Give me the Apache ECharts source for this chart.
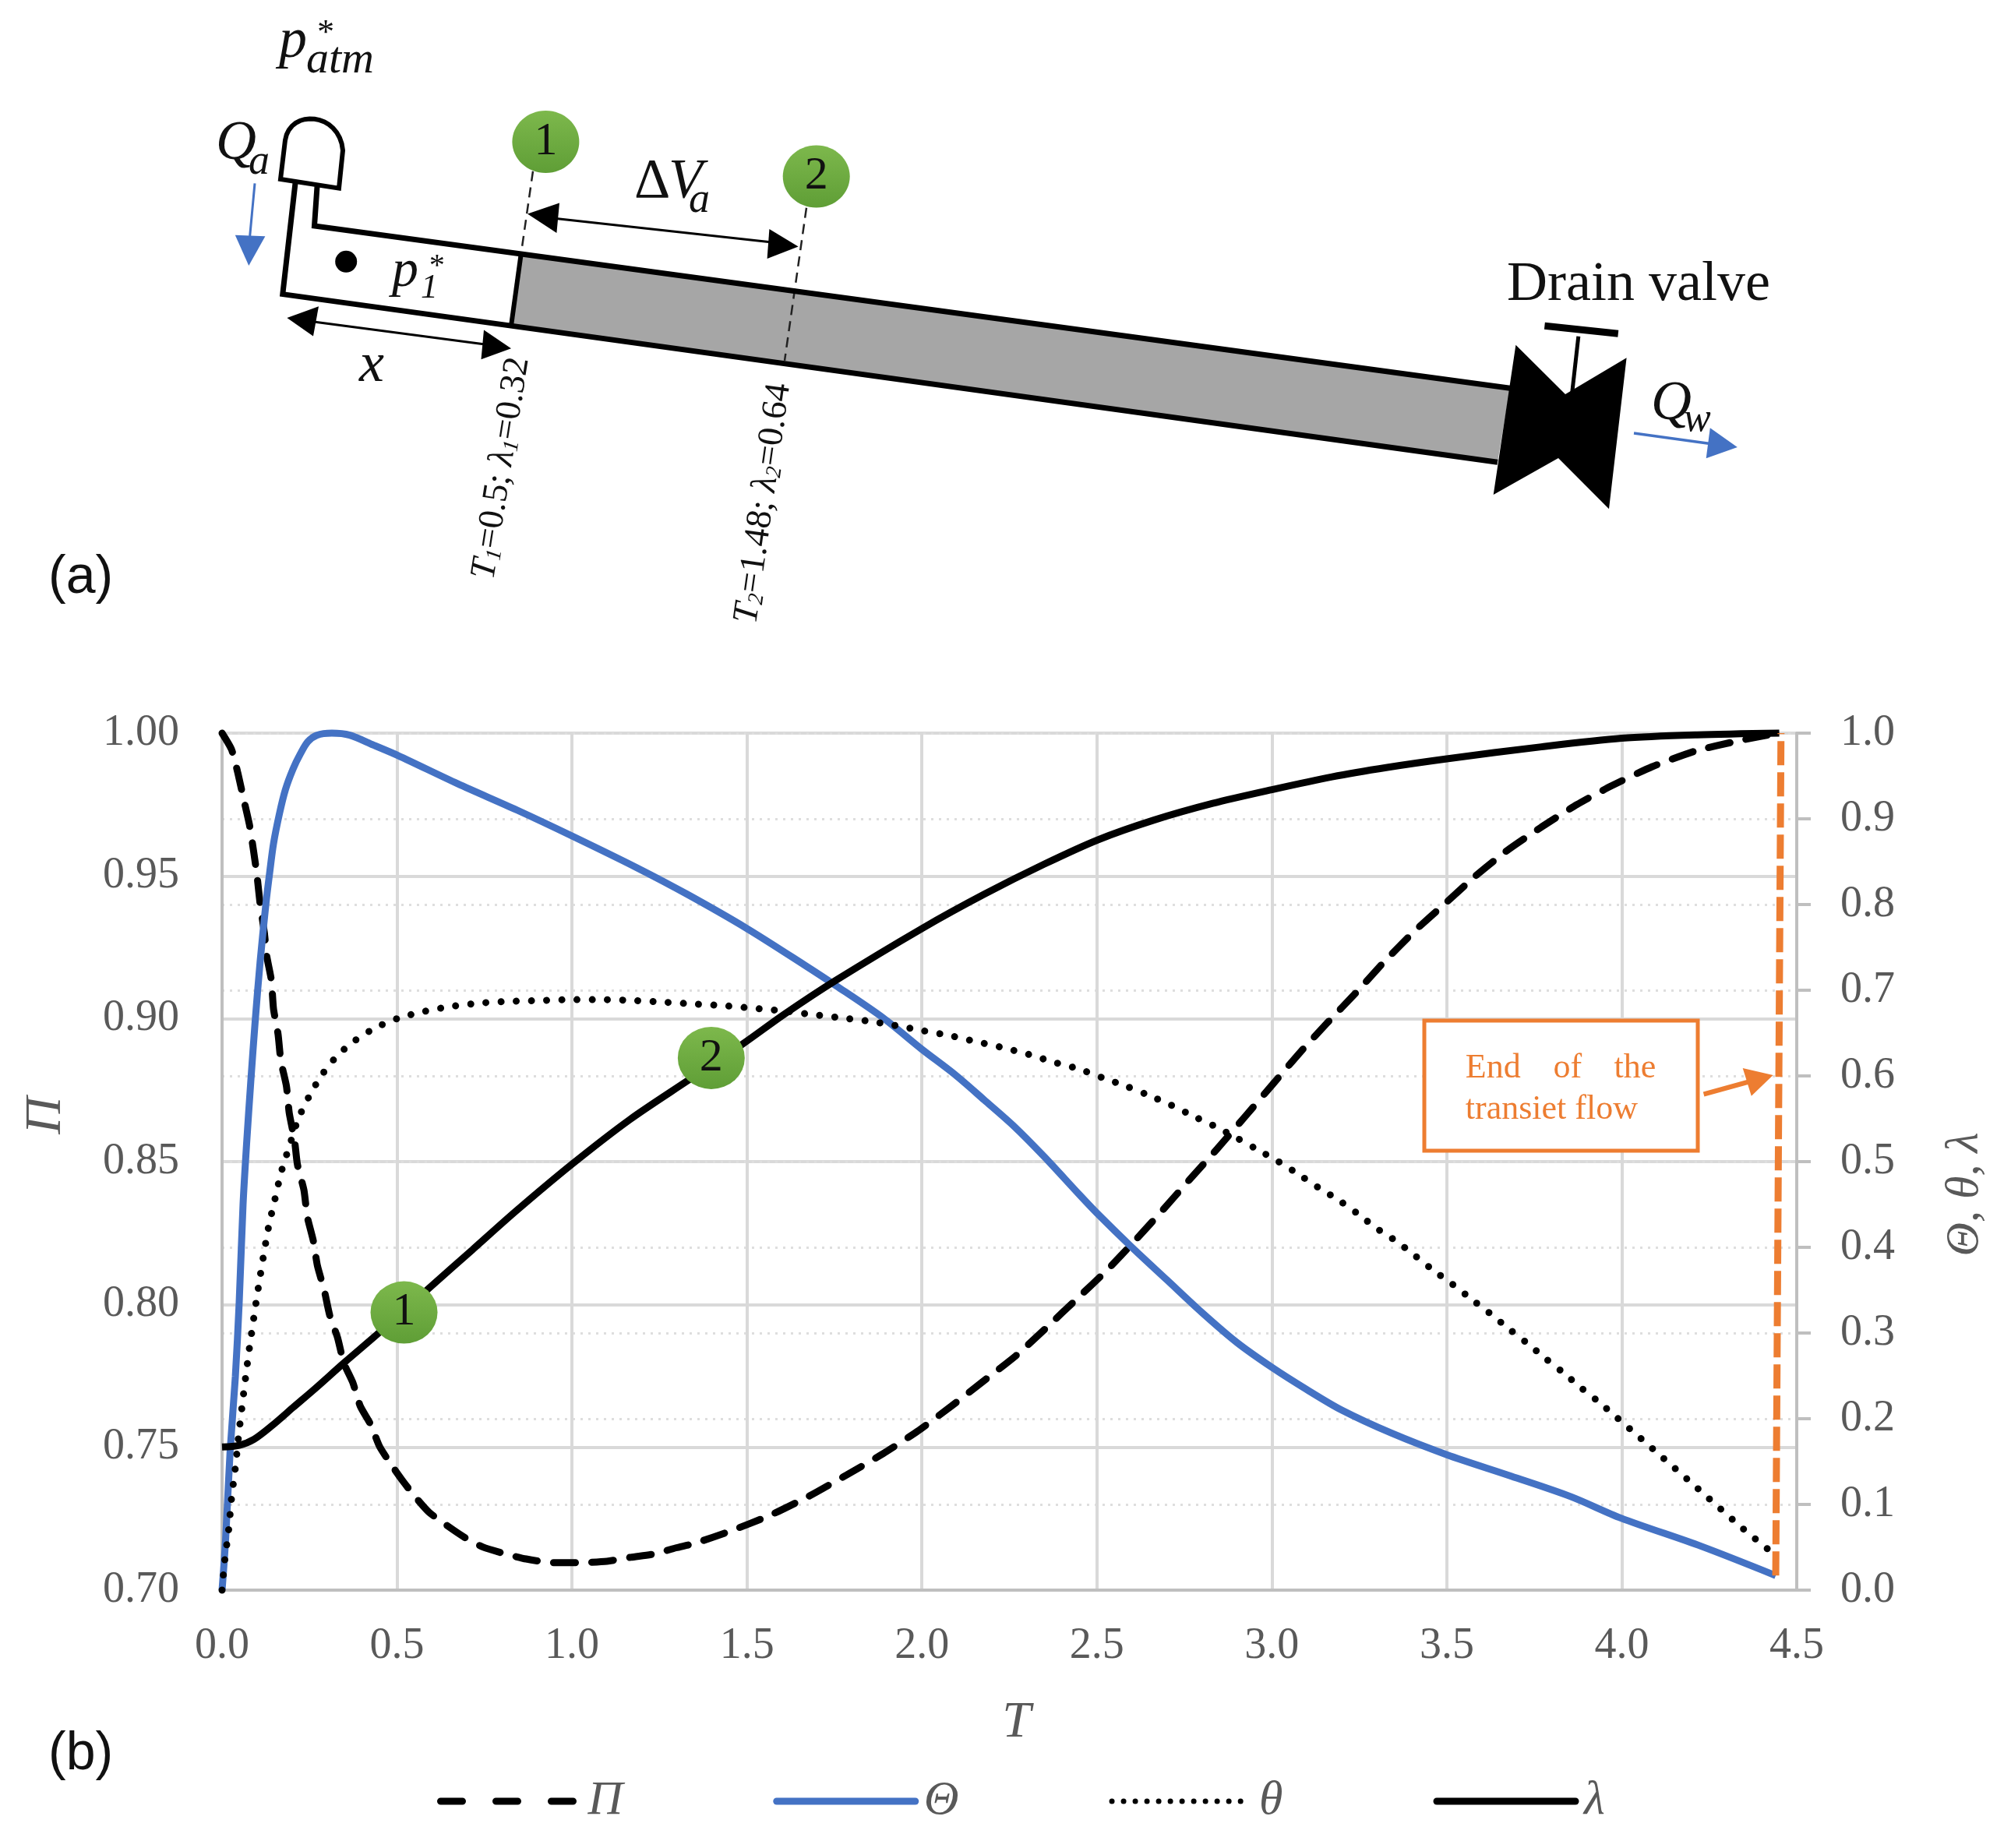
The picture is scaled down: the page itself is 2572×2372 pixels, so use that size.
<!DOCTYPE html>
<html>
<head>
<meta charset="utf-8">
<script src="https://cdn.jsdelivr.net/npm/echarts@6/dist/echarts.min.js"></script>
<style>html,body{margin:0;padding:0;background:#fff}#c{width:2572px;height:2372px}</style>
</head>
<body>
<div id="c"></div>
<script>
// ---- chart data: [T, value] ----
const namePi = 'Π', nameCapTheta = 'Θ', nameTheta = 'θ', nameLambda = 'λ';

const piSeries = [[0,1],[.027,.9943],[.0444,.9864],[.0615,.977],[.0786,.9677],[.09,.9588],[.1,.95],[.1085,.9405],[.121,.93],[.128,.9218],[.141,.9134],[.147,.9035],[.16,.8946],[.168,.8853],[.184,.8764],[.192,.867],[.207,.8576],[.2154,.849],[.234,.84],[.2436,.8307],[.2607,.8223],[.2726,.8135],[.292,.805],[.3077,.7962],[.33,.7884],[.348,.7795],[.3735,.7727],[.395,.7644],[.425,.7579],[.45,.7503],[.483,.744],[.519,.7378],[.553,.7325],[.591,.7273],[.643,.7226],[.694,.7184],[.745,.7151],[.809,.7127],[.869,.7109],[.946,.7096],[1.015,.7096],[1.1,.7101],[1.168,.7115],[1.237,.7127],[1.297,.7148],[1.351,.7164],[1.453,.7207],[1.568,.7263],[1.679,.733],[1.786,.7404],[1.888,.7477],[1.986,.7555],[2.084,.7644],[2.174,.773],[2.268,.782],[2.357,.792],[2.443,.802],[2.528,.8119],[2.613,.8229],[2.69,.8333],[2.767,.844],[2.844,.8545],[2.925,.866],[3.002,.877],[3.079,.888],[3.16,.8988],[3.241,.9092],[3.319,.9197],[3.407,.9306],[3.492,.94],[3.582,.95],[3.671,.9588],[3.77,.9671],[3.872,.975],[3.97,.9815],[4.086,.9882],[4.209,.9937],[4.333,.9973],[4.445,1]];

const capThetaSeries = [[0,0],[.01,.058],[.023,.162],[.038,.249],[.049,.336],[.06,.45],[.07,.52],[.082,.593],[.0945,.663],[.1085,.732],[.1256,.802],[.136,.837],[.147,.871],[.164,.906],[.181,.934],[.2026,.958],[.224,.976],[.245,.99],[.271,.9976],[.3137,1],[.365,.9976],[.433,.986],[.502,.974],[.673,.941],[.844,.91],[1,.88],[1.185,.843],[1.329,.812],[1.5,.772],[1.666,.729],[1.752,.706],[1.888,.668],[2,.631],[2.093,.602],[2.178,.572],[2.264,.541],[2.349,.506],[2.451,.461],[2.5,.44],[2.6,.4],[2.7,.362],[2.8,.324],[2.9,.289],[3,.26],[3.1,.234],[3.2,.21],[3.343,.183],[3.5,.158],[3.684,.133],[3.855,.109],[3.998,.084],[4.228,.051],[4.44,.017]];

const thetaSeries = [[0,0],[.008,.036],[.019,.071],[.027,.107],[.038,.143],[.047,.179],[.057,.214],[.0675,.249],[.079,.285],[.0915,.32],[.104,.354],[.118,.389],[.1325,.423],[.151,.456],[.17,.489],[.194,.52],[.218,.55],[.25,.577],[.285,.601],[.328,.623],[.379,.641],[.438,.656],[.502,.667],[.575,.675],[.654,.681],[.737,.685],[.822,.687],[.909,.688],[1,.689],[1.089,.689],[1.177,.688],[1.264,.686],[1.346,.684],[1.432,.682],[1.517,.679],[1.6,.676],[1.68,.672],[1.765,.668],[1.846,.664],[1.922,.659],[2,.653],[2.08,.647],[2.155,.64],[2.231,.633],[2.306,.625],[2.377,.616],[2.449,.608],[2.515,.598],[2.584,.588],[2.65,.577],[2.712,.566],[2.776,.553],[2.838,.541],[2.898,.528],[2.959,.514],[3.019,.5],[3.077,.485],[3.132,.47],[3.191,.455],[3.246,.439],[3.3,.422],[3.356,.407],[3.41,.39],[3.462,.373],[3.516,.357],[3.569,.34],[3.623,.323],[3.674,.306],[3.727,.289],[3.78,.271],[3.832,.254],[3.884,.236],[3.936,.219],[3.987,.201],[4.116,.155],[4.216,.119],[4.34,.074],[4.42,.047]];

const lambdaSeries = [[0,.167],[.049,.169],[.0915,.176],[.143,.192],[.2026,.213],[.271,.237],[.348,.265],[.442,.298],[.596,.354],[.715,.397],[.842,.443],[1,.497],[1.165,.549],[1.329,.594],[1.487,.637],[1.607,.672],[1.752,.711],[2,.772],[2.178,.812],[2.349,.847],[2.503,.8755],[2.663,.8985],[2.831,.918],[3,.934],[3.172,.949],[3.33,.96],[3.5,.97],[3.77,.984],[4,.994],[4.215,.998],[4.45,1]];

const endOfTransient = [[4.44,.017],[4.455,1]];
const markerPoints = [[.52,.324,'1'],[1.398,.621,'2']];

const SERIF = '"Liberation Serif","Times New Roman",serif';
const GREY = '#595959', ORANGE = '#ED7D31', BLUE = '#4472C4', GREEN = {type:'linear',x:0,y:0,x2:0,y2:1,colorStops:[{offset:0,color:'#7DB84C'},{offset:1,color:'#5F9E36'}]};

// ---- schematic (a) and annotation drawn with the graphic component ----
const g = [];
const line = (x1,y1,x2,y2,w,color,extra) => g.push({type:'line',z:100,shape:{x1,y1,x2,y2},style:Object.assign({stroke:color||'#000',lineWidth:w,lineCap:'butt'},extra||{})});
const poly = (pts,fill,extra) => g.push({type:'polygon',z:100,shape:{points:pts},style:Object.assign({fill:fill||'#000'},extra||{})});
// text placed by its baseline
const txt = (t,x,y,size,o) => g.push({type:'text',z:102,x,y:y-.2*size,style:Object.assign({text:t,font:'italic '+size+'px '+SERIF,fill:'#111',align:'left',verticalAlign:'middle'},o||{})});
const roman = (t,x,y,size,o) => txt(t,x,y,size,Object.assign({font:size+'px '+SERIF},o||{}));

poly([[668.8,325.3],[1938,498.3],[1922,593.3],[656,418.4]],'#A6A6A6');
g.push({type:'polyline',z:101,shape:{points:[[379,235],[362.8,377.6],[1922,593.3]]},style:{fill:null,stroke:'#000',lineWidth:7,lineJoin:'miter'}});
g.push({type:'polyline',z:101,shape:{points:[[407,239.5],[403.5,290],[1938,498.3]]},style:{fill:null,stroke:'#000',lineWidth:7,lineJoin:'miter'}});
line(668.8,325.3,656,418.4,6);
// air valve cap: dome sampled on a bezier outline
const capPts = [[360,230]];
for (let i=0;i<=16;i++){const t=i/16,u=1-t;capPts.push([u*u*u*366+3*u*u*t*372+3*u*t*t*436+t*t*t*440,u*u*u*180+3*u*u*t*139+3*u*t*t*144+t*t*t*193]);}
capPts.push([435,241.6]);
g.push({type:'polygon',z:101,shape:{points:capPts},style:{fill:'#fff',stroke:'#000',lineWidth:6}});
g.push({type:'circle',z:101,shape:{cx:444.2,cy:335.8,r:14},style:{fill:'#000'}});
// valve
poly([[1945.4,442.7],[2009,506],[2087.6,459.3],[2065,653.3],[2000,588],[1916.7,635]],'#000');
line(2025.8,431.7,2017.5,506,5);
line(1982.4,418.3,2076.8,428.3,9);
// blue arrows
line(327,235.4,320.7,303,3,BLUE);
poly([[301.8,301.8],[340.4,303.3],[319.3,341]],BLUE);
line(2097,556,2193,569.3,3.5,BLUE);
poly([[2194.8,549.3],[2229.8,574],[2189.7,588.3]],BLUE);
// dashed section lines
line(684,219.7,668.8,325.3,2.5,'#222',{lineDash:[13,8]});
line(1035,266.7,1007,462.9,2.5,'#222',{lineDash:[13,8]});
// black double arrows
line(700,279,1000,312,3);
poly([[677,274.6],[718,260.5],[714.4,299]]);
poly([[1024.6,316.4],[987.4,294],[984.6,332]]);
line(395,412,630,443,3);
poly([[368.4,408],[409,393.3],[402,431.5]]);
poly([[656,447.2],[621,423.6],[617.5,461.3]]);
// green section markers
[[700.4,182,'1'],[1047.7,226.5,'2']].forEach(m=>{
  g.push({type:'ellipse',z:101,shape:{cx:m[0],cy:m[1],rx:43,ry:40},style:{fill:GREEN}});
  g.push({type:'text',z:102,x:m[0],y:m[1],style:{text:m[2],font:'60px '+SERIF,fill:'#111',align:'center',verticalAlign:'middle'}});
});
// schematic texts
txt('p',358,68,72);      txt('atm',393,89,58);  txt('*',405,52,44);
txt('Q',277,199,72);     txt('a',319,220,54);
txt('p',503,363,68);     txt('1',540,379,44);   txt('*',549,350,40);
roman('Δ',814,248,72);   txt('V',858,248,72);   txt('a',884,269,54);
txt('x',461,484,72);
txt('Q',2119,533,72);    txt('w',2161,550,52);
roman('Drain valve',1934,380,72,{fill:'#111'});
const rot1 = 81*Math.PI/180, rot2 = 82*Math.PI/180;
const richStyle = {t:{font:'italic 46px '+SERIF,fill:'#111'},s:{font:'italic 28px '+SERIF,fill:'#111',padding:[18,0,0,0]},n:{font:'46px '+SERIF,fill:'#111'}};
g.push({type:'text',z:102,x:621,y:743,rotation:rot1,style:{text:'{t|T}{s|1}{n|=0.5; }{t|λ}{s|1}{n|=0.32}',rich:richStyle,align:'left',verticalAlign:'middle'}});
g.push({type:'text',z:102,x:958,y:800,rotation:rot2,style:{text:'{t|T}{s|2}{n|=1.48; }{t|λ}{s|2}{n|=0.64}',rich:richStyle,align:'left',verticalAlign:'middle'}});
// panel labels
const SANS = '"Liberation Sans",Arial,sans-serif';
roman('(a)',62,756,68,{font:'68px '+SANS});
roman('(b)',62,2266,68,{font:'68px '+SANS});
// annotation box
g.push({type:'rect',z:101,shape:{x:1828,y:1310,width:351,height:167},style:{fill:'#fff',stroke:ORANGE,lineWidth:5}});
const oStyle = {font:'44px '+SERIF,fill:ORANGE};
roman('End',1880.8,1380,44,oStyle); roman('of',1993.6,1380,44,oStyle); roman('the',2071.5,1380,44,oStyle);
roman('transiet flow',1880.8,1433.5,44,oStyle);
line(2186.6,1404.5,2250,1387,6,ORANGE);
poly([[2275.6,1380],[2236.7,1371],[2247.8,1406.7]],ORANGE);

const tickText = {fontFamily:SERIF,fontSize:56,color:GREY};
const option = {
  animation:false,
  backgroundColor:'#fff',
  grid:{left:285,right:266,top:941,bottom:331,containLabel:false},
  legend:{
    left:556,top:2286-10,itemWidth:178,itemHeight:46,itemGap:193,
    itemStyle:{opacity:0},
    data:[
      {name:namePi,lineStyle:{type:[28,43],cap:'round',width:9}},
      {name:nameCapTheta,lineStyle:{width:9,cap:'round'}},
      {name:nameTheta,lineStyle:{type:[.01,15],cap:'round',width:7}},
      {name:nameLambda,lineStyle:{width:9,cap:'round'}}
    ],
    textStyle:{fontFamily:SERIF,fontStyle:'italic',fontSize:62,color:GREY,width:40,padding:[0,0,0,6]}
  },
  xAxis:{type:'value',min:0,max:4.5,interval:.5,
    name:'T',nameLocation:'middle',nameGap:138,
    nameTextStyle:{fontFamily:SERIF,fontStyle:'italic',fontSize:66,color:GREY,padding:[0,0,0,18]},
    axisLine:{show:true,onZero:false,lineStyle:{color:'#BFBFBF',width:4}},axisTick:{show:false},
    axisLabel:Object.assign({margin:44,formatter:v=>v.toFixed(1),showMinLabel:true,showMaxLabel:true},tickText),
    splitLine:{show:true,lineStyle:{color:'#D9D9D9',width:4}}},
  yAxis:[
    {type:'value',min:.7,max:1,interval:.05,
     name:namePi,nameLocation:'middle',nameGap:192,nameRotate:90,
     nameTextStyle:{fontFamily:SERIF,fontStyle:'italic',fontSize:66,color:GREY,padding:[0,0,0,118]},
     axisLine:{show:true,onZero:false,lineStyle:{color:'#BFBFBF',width:4}},axisTick:{show:false},
     axisLabel:Object.assign({margin:55,formatter:v=>v.toFixed(2)},tickText),
     splitLine:{show:true,lineStyle:{color:'#D9D9D9',width:4}}},
    {type:'value',min:0,max:1,interval:.1,position:'right',
     name:nameCapTheta+', '+nameTheta+', '+nameLambda,nameLocation:'middle',nameGap:186,nameRotate:90,
     nameTextStyle:{fontFamily:SERIF,fontStyle:'italic',fontSize:60,color:GREY,padding:[0,84,0,0]},
     axisLine:{show:true,onZero:false,lineStyle:{color:'#BFBFBF',width:4}},
     axisTick:{show:true,length:18,lineStyle:{color:'#BFBFBF',width:4}},
     axisLabel:Object.assign({margin:56,formatter:v=>v.toFixed(1)},tickText),
     splitLine:{show:true,lineStyle:{color:'#DEDEDE',width:3,type:[3,7]}}}
  ],
  series:[
    {name:namePi,type:'line',yAxisIndex:0,data:piSeries,showSymbol:false,symbol:'none',smooth:.2,clip:false,z:3,
     lineStyle:{color:'#000',width:9,type:[28,21],cap:'round'},itemStyle:{color:'#000'}},
    {name:nameCapTheta,type:'line',yAxisIndex:1,data:capThetaSeries,showSymbol:false,symbol:'none',smooth:.3,clip:false,z:4,
     lineStyle:{color:BLUE,width:9},itemStyle:{color:BLUE}},
    {name:nameTheta,type:'line',yAxisIndex:1,data:thetaSeries,showSymbol:false,symbol:'none',smooth:.3,clip:false,z:5,
     lineStyle:{color:'#000',width:9,type:[.01,19.5],cap:'round'},itemStyle:{color:'#000'}},
    {name:nameLambda,type:'line',yAxisIndex:1,data:lambdaSeries,showSymbol:false,symbol:'none',smooth:.3,clip:false,z:6,
     lineStyle:{color:'#000',width:9},itemStyle:{color:'#000'}},
    {name:'End of the transient flow',type:'line',yAxisIndex:1,data:endOfTransient,showSymbol:false,symbol:'none',clip:false,z:7,
     lineStyle:{color:ORANGE,width:9,type:[31,9]},itemStyle:{color:ORANGE}},
    {name:'Sections',type:'scatter',yAxisIndex:1,data:markerPoints,encode:{x:0,y:1},symbol:'circle',symbolSize:[86,80],z:8,clip:false,
     itemStyle:{color:GREEN,opacity:1},
     label:{show:true,position:'inside',formatter:p=>p.data[2],fontFamily:SERIF,fontSize:60,color:'#111'}}
  ],
  graphic:{elements:g}
};
const chart = echarts.init(document.getElementById('c'),null,{renderer:'canvas',width:2572,height:2372});
chart.setOption(option);
</script>
</body>
</html>
